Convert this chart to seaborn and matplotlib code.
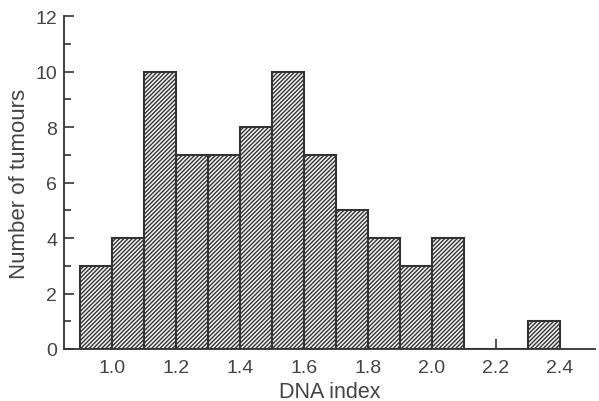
import matplotlib
matplotlib.use("Agg")
import matplotlib.pyplot as plt
import seaborn as sns
from matplotlib.ticker import MultipleLocator

# bin centres (DNA index) and counts
bin_centres = [0.95, 1.05, 1.15, 1.25, 1.35, 1.45, 1.55, 1.65, 1.75, 1.85, 1.95, 2.05, 2.15, 2.25, 2.35]
counts = [3, 4, 10, 7, 7, 8, 10, 7, 5, 4, 3, 4, 0, 0, 1]
bin_edges = [0.9, 1.0, 1.1, 1.2, 1.3, 1.4, 1.5, 1.6, 1.7, 1.8, 1.9, 2.0, 2.1, 2.2, 2.3, 2.4]
xticks = [1.0, 1.2, 1.4, 1.6, 1.8, 2.0, 2.2, 2.4]

sns.set_style("ticks")
plt.rcParams['font.family'] = ['Liberation Sans', 'DejaVu Sans']
plt.rcParams['hatch.linewidth'] = 1.0
plt.rcParams['hatch.color'] = '#2a2a2a'

fig = plt.figure(figsize=(5.99, 4.02), dpi=100)
ax = fig.add_axes([64/599, 52/402, 531/599, 333/402])

ink = '#333333'
sns.histplot(x=bin_centres, weights=counts, bins=bin_edges, ax=ax,
             color='#f4f4f4', edgecolor=ink, linewidth=1.5, alpha=1,
             hatch='////////')

ax.set_xlim(0.85, 2.51)
ax.set_ylim(0, 12)
ax.set_xticks(xticks)
ax.set_xticklabels([f"{t:.1f}" for t in xticks])
ax.yaxis.set_major_locator(MultipleLocator(2))
ax.yaxis.set_minor_locator(MultipleLocator(1))
ax.tick_params(axis='both', direction='in', colors=ink, labelcolor='#444444',
               labelsize=14, width=1.2, length=7)
ax.tick_params(axis='y', which='minor', direction='in', length=5, width=1.2, color=ink)
ax.tick_params(axis='x', pad=7)
ax.tick_params(axis='y', pad=5)
for side in ['top', 'right']:
    ax.spines[side].set_visible(False)
for side in ['left', 'bottom']:
    ax.spines[side].set_color(ink)
    ax.spines[side].set_linewidth(1.3)

ax.set_xlabel('DNA index', fontsize=15.5, color='#444444', labelpad=4)
ax.set_ylabel('Number of tumours', fontsize=16, color='#444444', labelpad=4)

fig.savefig('out.png', dpi=100)
